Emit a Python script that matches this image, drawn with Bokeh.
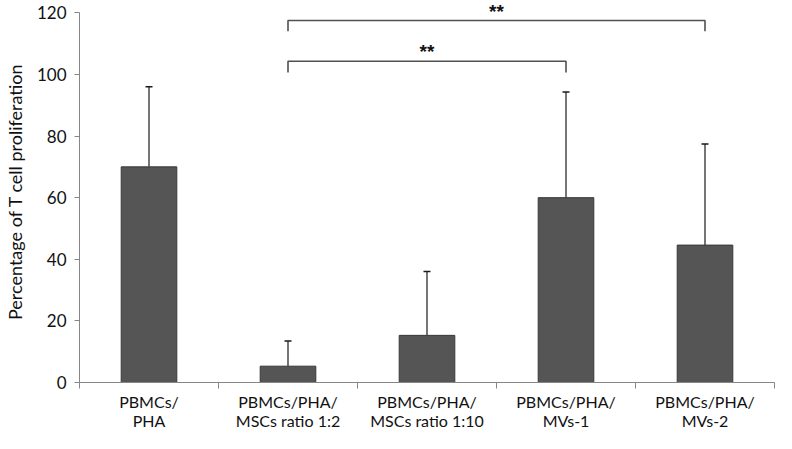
import numpy as np
from bokeh.plotting import figure
from bokeh.models import Range1d, FixedTicker, Whisker, ColumnDataSource, Label, TeeHead
from bokeh.embed import file_html
from bokeh.resources import INLINE

# ---- data ----
categories = ["PBMCs/\nPHA", "PBMCs/PHA/\nMSCs ratio 1:2", "PBMCs/PHA/\nMSCs ratio 1:10",
              "PBMCs/PHA/\nMVs-1", "PBMCs/PHA/\nMVs-2"]
means = [70.0, 5.3, 15.3, 60.0, 44.6]
err_upper = [96.0, 13.5, 36.0, 94.3, 77.4]
y_ticks = [0, 20, 40, 60, 80, 100, 120]
# significance brackets: (from index, to index, bar level, drop level, label)
br_from = [1, 1]
br_to = [3, 4]
br_level = [104.3, 117.5]
br_drop = [100.6, 114.0]
br_label = ["**", "**"]

n = len(categories)
xc = np.arange(n) + 0.5

FONT = "Lato"

p = figure(width=776, height=433, output_backend="svg", toolbar_location=None,
           x_range=Range1d(0, n), y_range=Range1d(0, 124),
           min_border_top=0, min_border_right=2, min_border_left=67,
           min_border_bottom=0)
p.outline_line_color = None
p.xgrid.visible = False
p.ygrid.visible = False

src = ColumnDataSource(dict(x=xc, top=means, up=err_upper))
p.vbar(x="x", top="top", width=0.4, source=src, fill_color="#555555",
       line_color="#383838", line_width=1)

w = Whisker(base="x", lower="top", upper="up", source=src, dimension="height",
            line_color="#1a1a1a", line_width=1.2,
            upper_head=TeeHead(size=7, line_color="#1a1a1a", line_width=1.5),
            lower_head=None)
p.add_layout(w)

# brackets
xs, ys = [], []
for a, b, lv, dr in zip(br_from, br_to, br_level, br_drop):
    xs.append([xc[a], xc[a], xc[b], xc[b]])
    ys.append([dr, lv, lv, dr])
p.multi_line(xs, ys, line_color="#505050", line_width=1.6)
for a, b, lv, lab in zip(br_from, br_to, br_level, br_label):
    p.add_layout(Label(x=(xc[a] + xc[b]) / 2, y=lv, text=lab, text_align="center",
                       text_baseline="bottom", y_offset=-1, text_font="Liberation Sans",
                       text_font_size="19px", text_font_style="bold", text_color="#111111"))

# axes
p.xaxis.ticker = FixedTicker(ticks=list(xc), minor_ticks=list(range(n + 1)))
p.xaxis.major_label_overrides = {float(x): c for x, c in zip(xc, categories)}
p.xaxis.major_tick_out = 0
p.xaxis.major_tick_in = 0
p.xaxis.minor_tick_out = 6
p.xaxis.minor_tick_in = 0
p.xaxis.minor_tick_line_color = "#868686"
p.xaxis.axis_line_color = "#868686"
p.xaxis.major_label_text_font = FONT
p.xaxis.major_label_text_font_size = "16px"
p.xaxis.major_label_text_color = "#111111"
p.xaxis.major_label_standoff = 3
p.xaxis.axis_label_standoff = 0
p.xaxis.major_label_text_line_height = 1.05

p.yaxis.ticker = FixedTicker(ticks=y_ticks, minor_ticks=[])
p.yaxis.bounds = (0, 120)
p.yaxis.major_tick_out = 5
p.yaxis.major_tick_in = 0
p.yaxis.major_tick_line_color = "#868686"
p.yaxis.axis_line_color = "#868686"
p.yaxis.major_label_text_font = FONT
p.yaxis.major_label_text_font_size = "17px"
p.yaxis.major_label_text_color = "#111111"
p.yaxis.major_label_standoff = 8
p.yaxis.axis_label = "Percentage of T cell proliferation"
p.yaxis.axis_label_text_font = FONT
p.yaxis.axis_label_text_font_style = "normal"
p.yaxis.axis_label_text_font_size = "18px"
p.yaxis.axis_label_text_color = "#111111"
p.yaxis.axis_label_standoff = 8

open("out.html", "w").write(file_html(p, INLINE))
